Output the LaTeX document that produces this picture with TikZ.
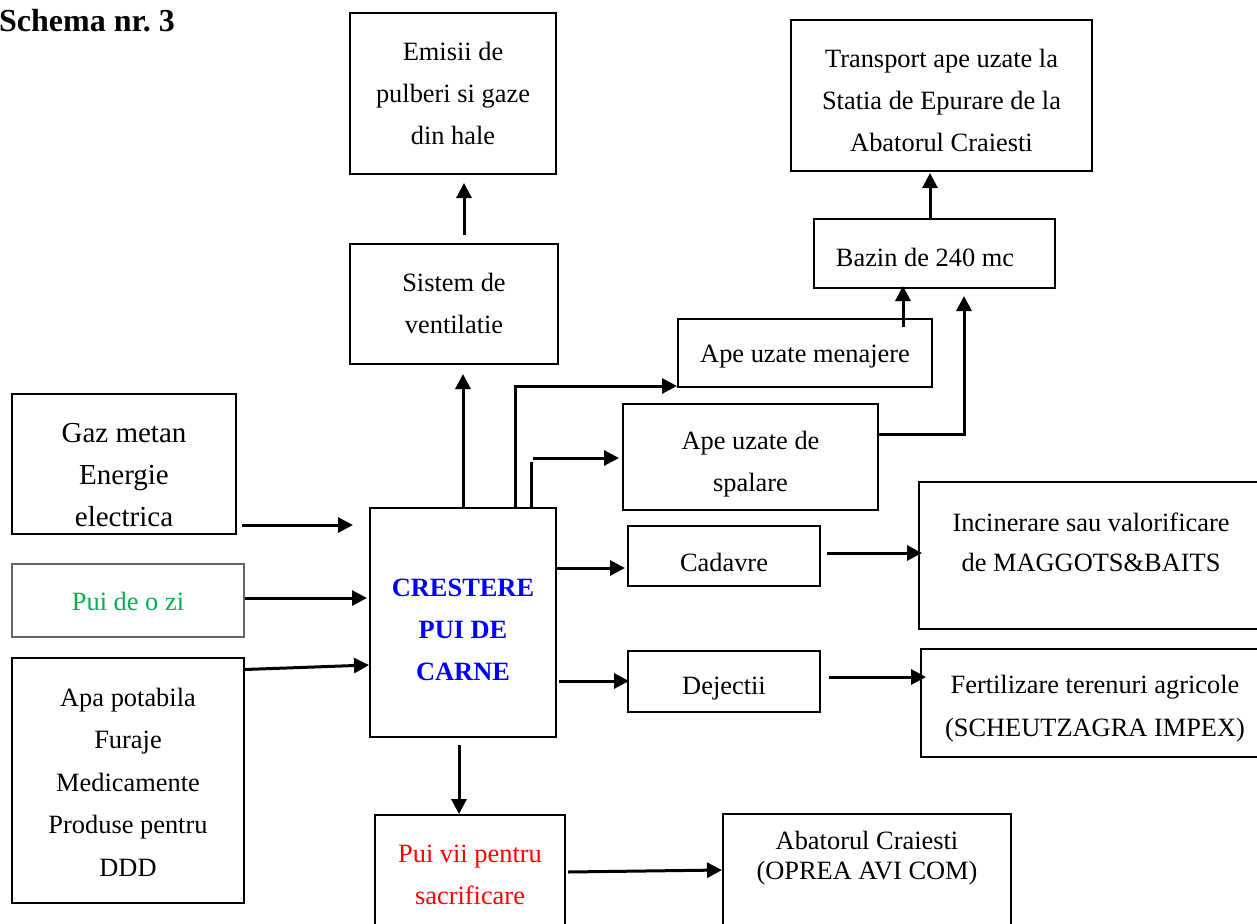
\documentclass[tikz,border=0pt]{standalone}
\usepackage{fontspec}
\setmainfont{Liberation Serif}
\usetikzlibrary{arrows.meta,calc}
\definecolor{puigreen}{RGB}{0,176,80}
\begin{document}
\begin{tikzpicture}[x=1pt,y=-1pt,
  box/.style={draw, line width=2pt, inner sep=0pt},
  txt/.style={align=center, font=\fontsize{26.4}{42}\selectfont, inner sep=0pt},
  arr/.style={line width=3pt, -{Triangle[length=15pt,width=15pt]}},
  ln/.style={line width=3pt}]
\useasboundingbox (0,0) rectangle (1257,923);

\node[font=\bfseries\fontsize{32}{36}\selectfont, anchor=west, inner sep=0pt] (title) at (-1,21) {Schema nr.~3};

% boxes
\node[box,minimum width=206pt,minimum height=161pt] (emisii) at (453,93.5) {};
\node[txt] (emisiit) at (453,93) {Emisii de\\pulberi si gaze\\din hale};

\node[box,minimum width=301pt,minimum height=151pt] (transport) at (941.5,95.5) {};
\node[txt] (transportt) at (941.5,100) {Transport ape uzate la\\Statia de Epurare de la\\Abatorul Craiesti};

\node[box,minimum width=241pt,minimum height=69pt] (bazin) at (934.5,253.5) {};
\node[txt] (bazint) at (925,257) {Bazin de 240 mc};

\node[box,minimum width=208pt,minimum height=120pt] (sistem) at (454,304) {};
\node[txt] (sistemt) at (454,303) {Sistem de\\ventilatie};

\node[box,minimum width=254pt,minimum height=68pt] (menajere) at (805,353) {};
\node[txt] (menajeret) at (805,357) {Ape uzate menajere};

\node[box,minimum width=255pt,minimum height=106pt] (spalare) at (750.5,457) {};
\node[txt] (spalaret) at (750.5,464) {Ape uzate de\\spalare};

\node[box,minimum width=224pt,minimum height=140pt] (gaz) at (124,464) {};
\node[txt,font=\fontsize{29}{42}\selectfont] (gazt) at (124,475) {Gaz metan\\Energie\\electrica};

\node[draw=black!60, line width=1.5pt, inner sep=0pt, minimum width=232pt,minimum height=73pt] (puizi) at (128,600.5) {};
\node[txt,text=puigreen] (puizit) at (128,601) {Pui de o zi};

\node[box,minimum width=232pt,minimum height=245pt] (apa) at (128,780.5) {};
\node[txt,font=\fontsize{26.4}{42.5}\selectfont] (apat) at (128,782) {Apa potabila\\Furaje\\Medicamente\\Produse pentru\\DDD};

\node[box,minimum width=186pt,minimum height=229pt] (crestere) at (463,622.5) {};
\node[txt,font=\bfseries\fontsize{26.4}{42}\selectfont,text=blue] (creseret) at (463,630) {CRESTERE\\PUI DE\\CARNE};

\node[box,minimum width=192pt,minimum height=60pt] (cadavre) at (724,556) {};
\node[txt] (cadavret) at (724,562) {Cadavre};

\node[box,minimum width=350pt,minimum height=147pt] (incin) at (1094,555.5) {};
\node[txt,font=\fontsize{26.4}{40}\selectfont] (incint) at (1091,542) {Incinerare sau valorificare\\de MAGGOTS\&BAITS};

\node[box,minimum width=192pt,minimum height=61pt] (dejectii) at (724,681.5) {};
\node[txt] (dejectiit) at (724,689) {Dejectii};

\node[box,minimum width=348pt,minimum height=108pt] (fert) at (1095,703) {};
\node[txt,font=\fontsize{26.4}{43}\selectfont] (fertt) at (1095,709) {Fertilizare terenuri agricole\\(SCHEUTZAGRA IMPEX)};

\node[box,minimum width=190pt,minimum height=125pt] (puivii) at (470,877.5) {};
\node[txt,text=red] (puiviit) at (470,875) {Pui vii pentru\\sacrificare};

\node[box,minimum width=288pt,minimum height=126pt] (abator) at (867,877) {};
\node[txt,font=\fontsize{26.4}{30}\selectfont] (abatort) at (867,858) {Abatorul Craiesti\\(OPREA AVI COM)};

% connectors
\draw[arr,shorten <=8pt,shorten >=8pt] ([xshift=10pt]sistem.north) -- ([xshift=11pt]emisii.south);
\draw[arr,shorten >=9pt] (crestere.north) -- (crestere.north |- sistem.south);
\draw[arr] ([xshift=52pt]crestere.north) |- ([yshift=2pt]menajere.south west);
\draw[ln] ([xshift=68pt]crestere.north) -- ++(0,-45);
\coordinate (sp0) at (533,458);
\draw[arr,shorten >=3pt] (sp0) -- (sp0 -| spalare.west);
\draw[arr] ([yshift=23pt]spalare.east) -| ([xshift=29.5pt,yshift=-7pt]bazin.south);
\draw[arr] ([xshift=98pt,yshift=-9pt]menajere.north) -- ([xshift=-31.5pt,yshift=3pt]bazin.south);
\draw[arr,shorten >=1pt] ([xshift=-4.5pt]bazin.north) -- ([xshift=-11.5pt]transport.south);
\coordinate (gz0) at ([shift={(5pt,-61pt)}]gaz.east);
\draw[arr,shorten >=16pt] (gz0) -- (gz0 -| crestere.west);
\draw[arr,shorten >=2pt] ([yshift=2.5pt]puizi.east) -- ([yshift=2.5pt]puizi.east -| crestere.west);
\draw[arr] ([yshift=111pt]apa.east) -- ([yshift=-42.5pt]crestere.west);
\draw[arr,shorten >=2pt] ([yshift=54.5pt]crestere.east) -- ([yshift=54.5pt]crestere.east -| cadavre.west);
\draw[arr] ([shift={(2pt,-58.5pt)}]crestere.east) -- ([shift={(2pt,-58.5pt)}]crestere.east -| dejectii.west);
\draw[arr,shorten >=2pt] ([shift={(6pt,3pt)}]cadavre.east) -- ([shift={(6pt,3pt)}]cadavre.east -| incin.west);
\draw[arr,shorten >=2pt] ([shift={(8pt,4.5pt)}]dejectii.east) -- ([shift={(8pt,4.5pt)}]dejectii.east -| fert.west);
\draw[arr] ([shift={(-4pt,-7pt)}]crestere.south) -- ([xshift=-11pt]puivii.north);
\draw[arr] ([shift={(2pt,5.5pt)}]puivii.east) -- ([yshift=7pt]abator.west);
\end{tikzpicture}
\end{document}
